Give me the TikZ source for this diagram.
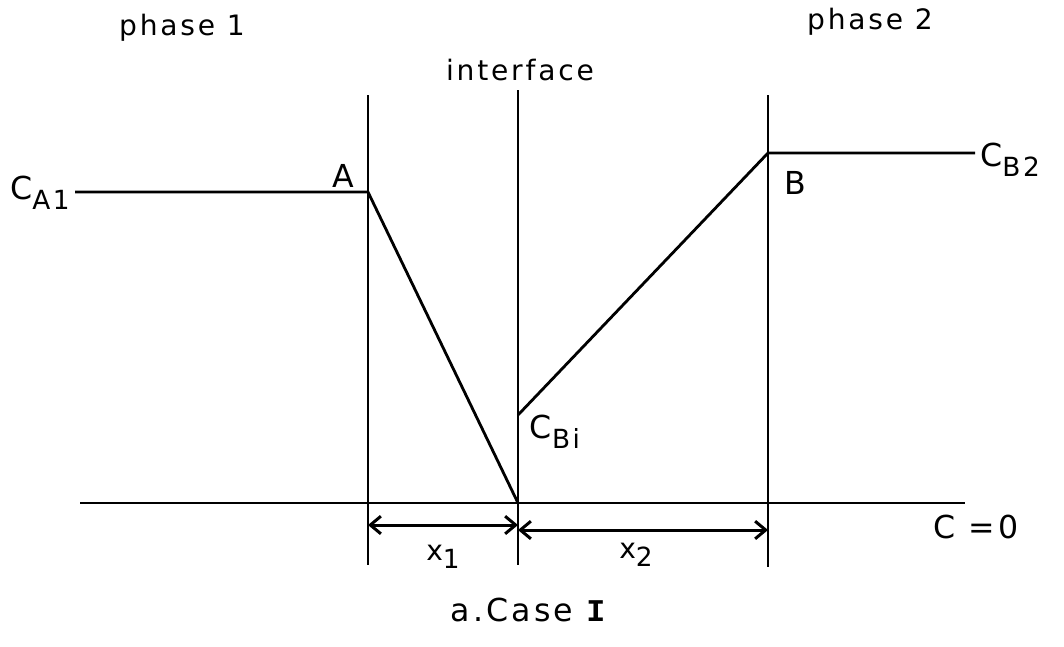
\documentclass[tikz,border=0pt]{standalone}
\usepackage{fontspec}
\setmainfont{DejaVu Sans}[LetterSpace=10]
\newfontfamily\monoI{Liberation Mono}
\usetikzlibrary{arrows.meta}

\newcommand{\sub}[1]{\raisebox{-0.55ex}{\fontsize{15}{15}\selectfont #1}}

\begin{document}
\begin{tikzpicture}[x=0.02cm, y=-0.02cm, line width=1.6pt,
  lbl/.style={font=\fontsize{16}{18}\selectfont, inner sep=0pt},
  biglbl/.style={font=\fontsize{18}{20}\selectfont, inner sep=0pt},
  dim/.style={{Straight Barb[length=6pt,width=10pt]}-{Straight Barb[length=6pt,width=10pt]}, line width=1.7pt}]
\useasboundingbox (0,0) rectangle (1064,646);
% walls and base line
\coordinate (atop) at (368,95);   \coordinate (abot) at (368,565);
\coordinate (itop) at (518,90);   \coordinate (ibot) at (518,565);
\coordinate (btop) at (768,95);   \coordinate (bbot) at (768,567);
\coordinate (base0) at (80,503);  \coordinate (base1) at (965,503);
\draw (atop) -- (abot);
\draw (itop) -- (ibot);
\draw (btop) -- (bbot);
\draw (base0) -- (base1);
% concentration profiles
\coordinate (ca0) at (75,192);   \coordinate (a) at (368,192);
\coordinate (i0) at (518,503);   \coordinate (bi) at (518,415);
\coordinate (b) at (768,153);    \coordinate (cb0) at (975,153);
\draw (ca0) -- (a) -- (i0);
\draw (bi) -- (b) -- (cb0);
% film thicknesses
\coordinate (d1a) at (368,525); \coordinate (d1b) at (518,525);
\coordinate (d2a) at (518,530); \coordinate (d2b) at (768,530);
\draw[dim] (d1a) -- (d1b);
\draw[dim] (d2a) -- (d2b);
% labels
\node[lbl] (ph1) at (182,28) {phase 1};
\node[lbl] (ph2) at (870,22) {phase 2};
\node[lbl] (intf) at (520,70) {interface};
\node[biglbl] (la) at (343,176) {A};
\node[biglbl] (lb) at (795,183) {B};
\node[biglbl] (lca) at (40,193) {C\sub{A1}};
\node[biglbl] (lcb) at (1010,160) {C\sub{B2}};
\node[biglbl] (lcbi) at (555,432) {C\sub{Bi}};
\node[lbl] (lx1) at (443,557) {x\sub{1}};
\node[lbl] (lx2) at (636,555) {x\sub{2}};
\node[biglbl] (lc0) at (976,527) {C =0};
\node[biglbl] (case) at (528,610) {a.Case {\monoI\bfseries I}};
\end{tikzpicture}
\end{document}
